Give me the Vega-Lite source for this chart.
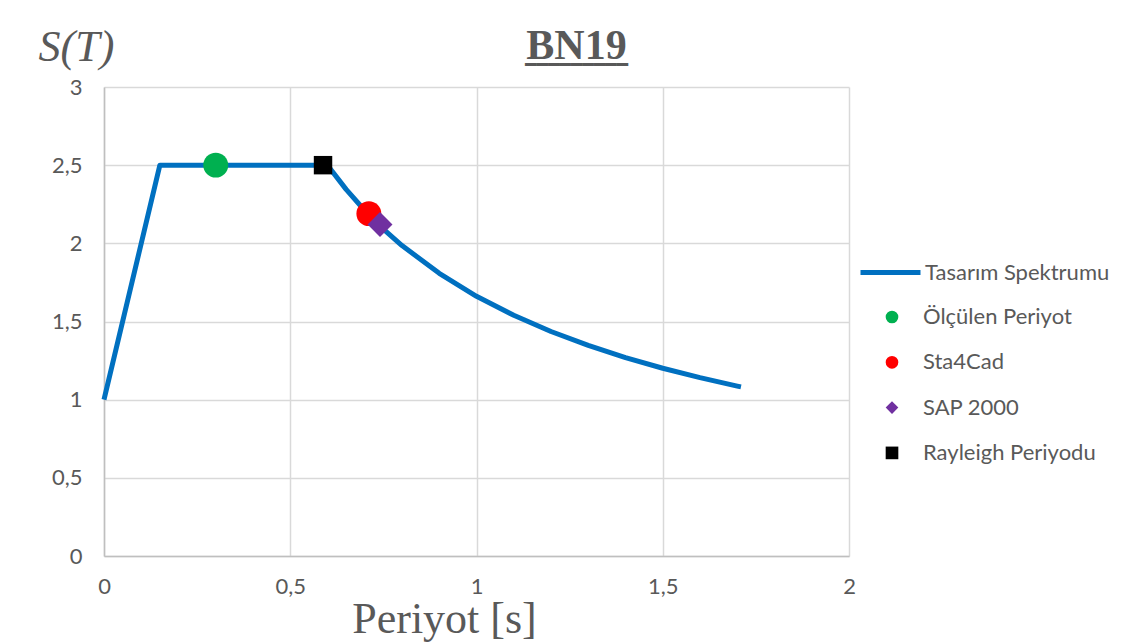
{
  "$schema": "https://vega.github.io/schema/vega-lite/v6.json",
  "width": 745,
  "height": 469,
  "autosize": {"type": "none"},
  "padding": {"left": 104, "top": 87, "right": 291, "bottom": 87},
  "background": "white",
  "title": {
    "text": "BN19",
    "subtitle": "━━━━━━━━━",
    "font": "Liberation Serif",
    "fontSize": 42,
    "fontWeight": "bold",
    "color": "#595959",
    "subtitleFont": "DejaVu Sans Mono",
    "subtitleFontSize": 19,
    "subtitleColor": "#595959",
    "subtitlePadding": -30,
    "anchor": "middle",
    "dx": 100,
    "offset": -84,
    "baseline": "alphabetic"
  },
  "datasets": {
    "spectrum": [
      {"T": 0, "S": 1.0, "series": "Tasarım Spektrumu"},
      {"T": 0.15, "S": 2.5, "series": "Tasarım Spektrumu"},
      {"T": 0.6, "S": 2.5, "series": "Tasarım Spektrumu"},
      {"T": 0.65, "S": 2.345, "series": "Tasarım Spektrumu"},
      {"T": 0.7, "S": 2.21, "series": "Tasarım Spektrumu"},
      {"T": 0.75, "S": 2.091, "series": "Tasarım Spektrumu"},
      {"T": 0.8, "S": 1.986, "series": "Tasarım Spektrumu"},
      {"T": 0.9, "S": 1.808, "series": "Tasarım Spektrumu"},
      {"T": 1.0, "S": 1.661, "series": "Tasarım Spektrumu"},
      {"T": 1.1, "S": 1.54, "series": "Tasarım Spektrumu"},
      {"T": 1.2, "S": 1.436, "series": "Tasarım Spektrumu"},
      {"T": 1.3, "S": 1.347, "series": "Tasarım Spektrumu"},
      {"T": 1.4, "S": 1.269, "series": "Tasarım Spektrumu"},
      {"T": 1.5, "S": 1.201, "series": "Tasarım Spektrumu"},
      {"T": 1.6, "S": 1.141, "series": "Tasarım Spektrumu"},
      {"T": 1.7, "S": 1.087, "series": "Tasarım Spektrumu"},
      {"T": 1.71, "S": 1.082, "series": "Tasarım Spektrumu"}
    ],
    "periods": [
      {"T": 0.3, "S": 2.5, "name": "Ölçülen Periyot"},
      {"T": 0.711, "S": 2.19, "name": "Sta4Cad"},
      {"T": 0.741, "S": 2.12, "name": "SAP 2000"},
      {"T": 0.588, "S": 2.5, "name": "Rayleigh Periyodu"}
    ]
  },
  "layer": [
    {
      "data": {"name": "spectrum"},
      "mark": {"type": "line", "strokeWidth": 5, "strokeCap": "butt", "strokeJoin": "round"},
      "encoding": {
        "x": {
          "field": "T", "type": "quantitative",
          "scale": {"domain": [0, 2], "nice": false},
          "axis": {
            "values": [0, 0.5, 1, 1.5, 2],
            "labelExpr": "replace('' + datum.value, '.', ',')",
            "labelFlush": false,
            "title": "Periyot [s]",
            "titleX": 340,
            "titleY": 76,
            "titleAlign": "center",
            "titleBaseline": "alphabetic",
            "titleFont": "Liberation Serif",
            "titleFontSize": 44,
            "titleFontWeight": "normal",
            "titleColor": "#595959",
            "labelPadding": 20
          }
        },
        "y": {
          "field": "S", "type": "quantitative",
          "scale": {"domain": [0, 3], "nice": false},
          "axis": {
            "values": [0, 0.5, 1, 1.5, 2, 2.5, 3],
            "labelExpr": "replace('' + datum.value, '.', ',')",
            "labelFlush": false,
            "title": "S(T)",
            "titleAngle": 0,
            "titleX": -28,
            "titleY": -27,
            "titleAlign": "center",
            "titleBaseline": "alphabetic",
            "titleFont": "Liberation Serif",
            "titleFontStyle": "italic",
            "titleFontSize": 44,
            "titleFontWeight": "normal",
            "titleColor": "#595959",
            "labelPadding": 22
          }
        },
        "color": {
          "field": "series", "type": "nominal",
          "scale": {"domain": ["Tasarım Spektrumu"], "range": ["#0070C0"]},
          "legend": {
            "orient": "none",
            "legendX": 754,
            "legendY": 153,
            "title": null,
            "symbolType": "stroke",
            "symbolSize": 3600,
            "symbolStrokeWidth": 5,
            "labelOffset": 2,
            "padding": 0
          }
        }
      }
    },
    {
      "data": {"name": "periods"},
      "mark": {"type": "point", "filled": true, "opacity": 1, "strokeWidth": 0},
      "encoding": {
        "x": {"field": "T", "type": "quantitative"},
        "y": {"field": "S", "type": "quantitative"},
        "fill": {
          "field": "name", "type": "nominal",
          "scale": {
            "domain": ["Ölçülen Periyot", "Sta4Cad", "SAP 2000", "Rayleigh Periyodu"],
            "range": ["#00B050", "#FF0000", "#7030A0", "#000000"]
          },
          "legend": {
            "orient": "none",
            "legendX": 777,
            "legendY": 219,
            "title": null,
            "symbolSize": 160,
            "symbolStrokeWidth": 0,
            "rowPadding": 23.3,
            "labelOffset": 20,
            "padding": 0
          }
        },
        "shape": {
          "field": "name", "type": "nominal",
          "scale": {
            "domain": ["Ölçülen Periyot", "Sta4Cad", "SAP 2000", "Rayleigh Periyodu"],
            "range": ["circle", "circle", "diamond", "square"]
          },
          "legend": {
            "orient": "none",
            "legendX": 777,
            "legendY": 219,
            "title": null,
            "symbolSize": 160,
            "symbolStrokeWidth": 0,
            "rowPadding": 23.3,
            "labelOffset": 20,
            "padding": 0
          }
        },
        "size": {
          "condition": {"test": "datum.name === 'Rayleigh Periyodu'", "value": 340},
          "value": 620
        }
      }
    }
  ],
  "config": {
    "font": "Lato",
    "view": {"stroke": null},
    "axis": {
      "grid": true,
      "gridColor": "#d9d9d9",
      "gridWidth": 1.5,
      "domainColor": "#bfbfbf",
      "domainWidth": 1.5,
      "ticks": false,
      "labelFont": "Lato",
      "labelFontSize": 22,
      "labelColor": "#595959"
    },
    "legend": {
      "labelFont": "Lato",
      "labelFontSize": 22,
      "labelColor": "#595959",
      "labelLimit": 400
    }
  }
}
